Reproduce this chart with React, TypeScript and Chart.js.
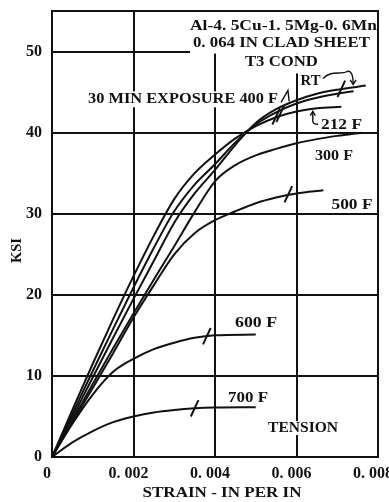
import React, { useEffect, useRef } from 'react';
import { Chart, registerables } from 'chart.js';

Chart.register(...registerables);

// ---- axis ticks ----
const strainTickValues = [0, 0.002, 0.004, 0.006, 0.008];
const strainTickLabels = ['0', '0. 002', '0. 004', '0. 006', '0. 008'];
const ksiTickValues = [0, 10, 20, 30, 40, 50];
const ksiTickLabels = ['0', '10', '20', '30', '40', '50'];

// ---- stress-strain curves (strain in/in, stress ksi) ----
const strain212F = [0, 0.0005, 0.001, 0.0015, 0.002, 0.0025, 0.003, 0.0035, 0.004, 0.0045, 0.005, 0.0055, 0.006, 0.0065, 0.0071];
const ksi212F = [0, 5.8, 11.5, 17.0, 22.3, 27.3, 31.8, 35.0, 37.3, 39.3, 40.8, 41.9, 42.6, 43.0, 43.2];

const strainRT = [0, 0.0005, 0.001, 0.0015, 0.002, 0.0025, 0.003, 0.0035, 0.004, 0.0045, 0.005, 0.0055, 0.006, 0.0065, 0.007, 0.0074];
const ksiRT = [0, 5.3, 10.6, 15.8, 20.9, 25.8, 30.3, 33.6, 36.1, 38.8, 41.0, 42.5, 43.6, 44.3, 44.8, 45.1];

const strain400F = [0, 0.0005, 0.001, 0.0015, 0.002, 0.0025, 0.003, 0.0035, 0.004, 0.0045, 0.005, 0.0055, 0.006, 0.0065, 0.007, 0.0077];
const ksi400F = [0, 4.9, 9.8, 14.7, 19.5, 24.2, 28.9, 32.5, 35.4, 38.5, 41.2, 42.9, 44.0, 44.8, 45.3, 45.8];

const strain300F = [0, 0.0005, 0.001, 0.0015, 0.002, 0.0025, 0.003, 0.0035, 0.004, 0.0045, 0.005, 0.0055, 0.006, 0.0065, 0.007, 0.0076];
const ksi300F = [0, 4.5, 9.0, 13.4, 17.7, 21.9, 26.0, 30.2, 34.0, 36.0, 37.2, 38.0, 38.7, 39.2, 39.6, 40.0];

const strain500F = [0, 0.0005, 0.001, 0.0015, 0.002, 0.0025, 0.003, 0.0035, 0.004, 0.0045, 0.005, 0.0055, 0.006, 0.00666];
const ksi500F = [0, 4.3, 8.5, 12.8, 17.2, 21.2, 25.0, 27.6, 29.2, 30.3, 31.3, 32.0, 32.5, 32.9];

const strain600F = [0, 0.0005, 0.001, 0.0015, 0.002, 0.0025, 0.003, 0.0035, 0.004, 0.005];
const ksi600F = [0, 4.1, 7.7, 10.5, 12.1, 13.3, 14.1, 14.7, 15.0, 15.1];

const strain700F = [0, 0.0005, 0.001, 0.0015, 0.002, 0.0025, 0.003, 0.0035, 0.004, 0.005];
const ksi700F = [0, 1.8, 3.2, 4.3, 5.0, 5.5, 5.8, 6.0, 6.1, 6.15];

// short slash marks drawn across the curves
const slashStrain = [0.0035, 0.0038, 0.0058, 0.0055, 0.0056, 0.0071];
const slashKsi = [6.0, 14.9, 32.4, 42.0, 42.3, 45.4];

// ---- text annotations ----
const annotationTexts = [
  'Al-4. 5Cu-1. 5Mg-0. 6Mn',
  '0. 064 IN CLAD SHEET',
  'T3 COND',
  '30 MIN EXPOSURE 400 F',
  'RT',
  '212 F',
  '300 F',
  '500 F',
  '600 F',
  '700 F',
  'TENSION',
];
const xAxisTitle = 'STRAIN - IN PER IN';
const yAxisTitle = 'KSI';

const pts = (xs: number[], ys: number[]) => xs.map((v, i) => ({ x: v, y: ys[i] }));

// layout of annotations: [strain, ksi, width px]
const annotationLayout: [number, number, number][] = [
  [0.00568, 53.19, 187],
  [0.00563, 50.98, 177],
  [0.00563, 48.65, 73],
  [0.003215, 44.1, 190],
  [0.006344, 46.31, 20],
  [0.007104, 40.91, 41],
  [0.006920, 37.1, 38],
  [0.007362, 31.08, 41],
  [0.005006, 16.52, 42],
  [0.00481, 7.25, 40],
  [0.00616, 3.56, 70],
];

// white masks behind text: [x0, y0, x1, y1] in data units
const maskLayout: [number, number, number, number][] = [
  [0.003387, 55, 0.00798, 49.75],
  [0.004613, 49.75, 0.006626, 47.3],
  [0.000834, 45.09, 0.005595, 43.12],
  [0.005252, 4.42, 0.007067, 2.7],
];

const SERIF = "'Liberation Serif', 'DejaVu Serif', serif";

function drawFitText(ctx: CanvasRenderingContext2D, text: string, cx: number, cy: number, w: number, font: string) {
  ctx.save();
  ctx.font = font;
  const m = ctx.measureText(text).width;
  ctx.translate(cx, cy);
  ctx.scale(w / m, 1);
  ctx.textAlign = 'center';
  ctx.textBaseline = 'middle';
  ctx.fillStyle = '#111';
  ctx.fillText(text, 0, 0);
  ctx.restore();
}

const decorPlugin = {
  id: 'decor',
  beforeDatasetsDraw(chart: any) {
    const { ctx, scales } = chart;
    const px = (v: number) => scales.x.getPixelForValue(v);
    const py = (v: number) => scales.y.getPixelForValue(v);
    ctx.save();
    ctx.fillStyle = '#fff';
    maskLayout.forEach(([x0, y0, x1, y1]) => {
      ctx.fillRect(px(x0), py(y0), px(x1) - px(x0), py(y1) - py(y0));
    });
    ctx.restore();
  },
  afterDatasetsDraw(chart: any) {
    const { ctx, chartArea: a, scales } = chart;
    const px = (v: number) => scales.x.getPixelForValue(v);
    const py = (v: number) => scales.y.getPixelForValue(v);
    ctx.save();
    // frame
    ctx.strokeStyle = '#111';
    ctx.lineWidth = 2;
    ctx.strokeRect(a.left, a.top, a.right - a.left, a.bottom - a.top);

    // annotations
    annotationTexts.forEach((t, i) => {
      const [sx, sy, w] = annotationLayout[i];
      drawFitText(ctx, t, px(sx), py(sy), w, `bold 15px ${SERIF}`);
    });

    // leader arrows
    ctx.lineWidth = 1.4;
    ctx.strokeStyle = '#111';
    // RT squiggle
    ctx.beginPath();
    ctx.moveTo(px(0.00665), py(46.68));
    ctx.bezierCurveTo(px(0.00687), py(47.79), px(0.00707), py(47.05), px(0.00724), py(47.54));
    ctx.quadraticCurveTo(px(0.00739), py(47.79), px(0.00739), py(45.95));
    ctx.stroke();
    ctx.beginPath();
    ctx.moveTo(px(0.00739) - 3, py(46.5));
    ctx.lineTo(px(0.00739), py(45.95));
    ctx.lineTo(px(0.00739) + 3, py(46.5));
    ctx.stroke();
    // 400 F leader
    ctx.beginPath();
    ctx.moveTo(px(0.00562), py(43.73));
    ctx.lineTo(px(0.00579), py(45.21));
    ctx.lineTo(px(0.00582), py(43.86));
    ctx.stroke();
    // 212 F bracket
    ctx.beginPath();
    ctx.moveTo(px(0.0064), py(42.63));
    ctx.lineTo(px(0.0064), py(41.4));
    ctx.quadraticCurveTo(px(0.0064), py(41.03), px(0.00653), py(41.03));
    ctx.stroke();
    ctx.beginPath();
    ctx.moveTo(px(0.0064) - 2.5, py(42.1));
    ctx.lineTo(px(0.0064), py(42.63));
    ctx.lineTo(px(0.0064) + 2.5, py(42.1));
    ctx.stroke();

    // axis titles
    drawFitText(ctx, xAxisTitle, px(0.004) + 7, a.bottom + 36, 159, `bold 15px ${SERIF}`);
    ctx.save();
    ctx.translate(17, a.top + (a.bottom - a.top) * 0.537);
    ctx.rotate(-Math.PI / 2);
    drawFitText(ctx, yAxisTitle, 0, 0, 25, `bold 14px ${SERIF}`);
    ctx.restore();
    ctx.restore();
  },
};

const curveStyle = {
  showLine: true,
  borderColor: '#111',
  borderWidth: 2,
  pointRadius: 0,
  cubicInterpolationMode: 'monotone' as const,
  fill: false,
};

export default function App() {
  const canvasRef = useRef<HTMLCanvasElement | null>(null);

  useEffect(() => {
    document.body.style.margin = '0';
    const canvas = canvasRef.current;
    if (!canvas) return;
    const chart = new Chart(canvas, {
      type: 'scatter',
      data: {
        datasets: [
          { label: '212 F', data: pts(strain212F, ksi212F), ...curveStyle },
          { label: 'RT', data: pts(strainRT, ksiRT), ...curveStyle },
          { label: '400 F', data: pts(strain400F, ksi400F), ...curveStyle },
          { label: '300 F', data: pts(strain300F, ksi300F), ...curveStyle },
          { label: '500 F', data: pts(strain500F, ksi500F), ...curveStyle },
          { label: '600 F', data: pts(strain600F, ksi600F), ...curveStyle },
          { label: '700 F', data: pts(strain700F, ksi700F), ...curveStyle },
          {
            label: 'marks',
            data: pts(slashStrain, slashKsi),
            showLine: false,
            pointStyle: 'line',
            pointRadius: 9,
            pointRotation: -65,
            pointBorderWidth: 2,
            borderColor: '#111',
            backgroundColor: '#111',
          } as any,
        ],
      },
      options: {
        animation: false,
        responsive: false,
        devicePixelRatio: 1,
        layout: { padding: { top: 10, right: 11, left: 0, bottom: 0 } },
        plugins: {
          legend: { display: false },
          tooltip: { enabled: false },
          title: { display: false },
        },
        scales: {
          x: {
            type: 'linear',
            min: 0,
            max: 0.008,
            afterBuildTicks: (scale: any) => {
              scale.ticks = strainTickValues.map((v) => ({ value: v }));
            },
            afterFit: (scale: any) => {
              scale.height = 45;
              scale.paddingLeft = 0;
              scale.paddingRight = 0;
            },
            grid: { color: '#111', lineWidth: 2, drawTicks: false },
            border: { display: false },
            ticks: {
              padding: 7,
              labelOffset: -5,
              maxRotation: 0,
              color: '#111',
              font: { family: SERIF, size: 16, weight: 'bold' },
              callback: (v: any) => {
                const i = strainTickValues.findIndex((t) => Math.abs(t - Number(v)) < 1e-9);
                return i >= 0 ? strainTickLabels[i] : '';
              },
            },
          },
          y: {
            type: 'linear',
            min: 0,
            max: 55,
            afterBuildTicks: (scale: any) => {
              scale.ticks = ksiTickValues.map((v) => ({ value: v }));
            },
            afterFit: (scale: any) => {
              scale.width = 52;
              scale.paddingTop = 0;
              scale.paddingBottom = 0;
            },
            grid: { color: '#111', lineWidth: 2, drawTicks: false },
            border: { display: false },
            ticks: {
              padding: 10,
              color: '#111',
              font: { family: SERIF, size: 16, weight: 'bold' },
              callback: (v: any) => {
                const i = ksiTickValues.indexOf(Number(v));
                return i >= 0 ? ksiTickLabels[i] : '';
              },
            },
          },
        },
      },
      plugins: [decorPlugin],
    });
    return () => chart.destroy();
  }, []);

  return (
    <div style={{ width: 389, height: 502, background: '#fff' }}>
      <canvas ref={canvasRef} width={389} height={502} style={{ display: 'block' }} />
    </div>
  );
}
